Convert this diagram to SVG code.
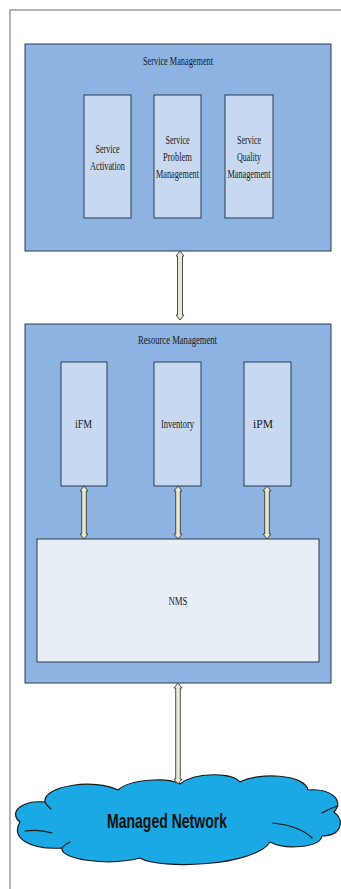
<svg xmlns="http://www.w3.org/2000/svg" width="341" height="889" viewBox="0 0 341 889">
<style>
.frame{fill:none;stroke:#9a9a9a;stroke-width:1.5}
.outer{fill:#8db3e2;stroke:#2a3a50;stroke-width:1}
.inner{fill:#c6d9f1;stroke:#2a3a50;stroke-width:1}
.nms{fill:#e8eef5;stroke:#2a3a50;stroke-width:1}
.lbl{font-family:"Liberation Serif","Times New Roman",serif;font-size:13px;fill:#1a1a1a;text-anchor:middle}
.arrow{fill:#e6e9d3;stroke:#3a3a3a;stroke-width:0.9;stroke-linejoin:round}
.cloud{fill:#1aa9e4;stroke:#1a1a1a;stroke-width:1.2;stroke-linejoin:round}
.fold{fill:none;stroke:#1a1a1a;stroke-width:1.2;stroke-linecap:round}
.net{font-family:"Liberation Sans",Arial,sans-serif;font-weight:bold;font-size:21px;fill:#111;text-anchor:middle}
</style>
<rect x="0" y="0" width="341" height="889" fill="#ffffff"/>
<path class="frame" d="M10,889 V10 H341"/>

<g id="service-management">
<rect class="outer" x="25" y="44" width="306" height="207"/>
<text class="lbl" x="178" y="64.5" textLength="70" lengthAdjust="spacingAndGlyphs">Service Management</text>
</g>
<g id="service-activation">
<rect class="inner" x="84" y="95" width="47" height="123"/>
<text class="lbl" x="107.5" y="152.5" textLength="24" lengthAdjust="spacingAndGlyphs">Service</text>
<text class="lbl" x="107.5" y="169.5" textLength="35" lengthAdjust="spacingAndGlyphs">Activation</text>
</g>
<g id="service-problem-management">
<rect class="inner" x="154" y="95" width="47" height="123"/>
<text class="lbl" x="177.5" y="143.5" textLength="24" lengthAdjust="spacingAndGlyphs">Service</text>
<text class="lbl" x="177.5" y="160.5" textLength="29" lengthAdjust="spacingAndGlyphs">Problem</text>
<text class="lbl" x="177.5" y="177.5" textLength="43" lengthAdjust="spacingAndGlyphs">Management</text>
</g>
<g id="service-quality-management">
<rect class="inner" x="225" y="95" width="48" height="123"/>
<text class="lbl" x="249" y="143.5" textLength="24" lengthAdjust="spacingAndGlyphs">Service</text>
<text class="lbl" x="249" y="160.5" textLength="24" lengthAdjust="spacingAndGlyphs">Quality</text>
<text class="lbl" x="249" y="177.5" textLength="43" lengthAdjust="spacingAndGlyphs">Management</text>
</g>

<g id="resource-management">
<rect class="outer" x="25" y="324" width="306" height="359"/>
<text class="lbl" x="177.5" y="343.5" textLength="79" lengthAdjust="spacingAndGlyphs">Resource Management</text>
</g>
<g id="ifm">
<rect class="inner" x="61" y="362" width="46" height="124"/>
<text class="lbl" x="83.5" y="427.5" textLength="17" lengthAdjust="spacingAndGlyphs">iFM</text>
</g>
<g id="inventory">
<rect class="inner" x="154" y="362" width="47" height="124"/>
<text class="lbl" x="177.5" y="427.5" textLength="33" lengthAdjust="spacingAndGlyphs">Inventory</text>
</g>
<g id="ipm">
<rect class="inner" x="244" y="362" width="47" height="124"/>
<text class="lbl" x="263" y="427.5" textLength="20" lengthAdjust="spacingAndGlyphs">iPM</text>
</g>
<g id="nms">
<rect class="nms" x="37" y="539" width="282" height="123"/>
<text class="lbl" x="178" y="604.5" textLength="19" lengthAdjust="spacingAndGlyphs">NMS</text>
</g>

<g id="managed-network">
<path class="cloud" d="M20,822 C8,812 22,800 45,802 C42,786 95,778 118,790 C130,779 168,777 180,784 C195,772 232,772 240,782 C258,772 305,774 308,790 C330,788 345,800 334,812 C345,820 342,836 322,836 C320,848 285,850 270,842 C255,866 160,870 140,858 C110,866 60,860 62,848 C30,850 10,838 20,822 Z"/>
<path class="fold" d="M25,831 Q40,829 52,833"/>
<path class="fold" d="M45,802 Q47,806 51,809"/>
<path class="fold" d="M273,823 Q300,826 312,838"/>
<path class="fold" d="M322,813 Q330,808 338,806"/>
<path class="fold" d="M62,848 Q65,844 70,842"/>
<text class="net" x="167" y="828" textLength="120" lengthAdjust="spacingAndGlyphs">Managed Network</text>
</g>

<g id="connectors">
<polygon class="arrow" points="180,251 184,256 182.5,256 182.5,315 184,315 180,320 176,315 177.5,315 177.5,256 176,256"/>
<polygon class="arrow" points="84,486 88,491 86.3,491 86.3,534 88,534 84,539 80,534 81.7,534 81.7,491 80,491"/>
<polygon class="arrow" points="178,486 182,491 180.3,491 180.3,534 182,534 178,539 174,534 175.7,534 175.7,491 174,491"/>
<polygon class="arrow" points="267,486 271,491 269.3,491 269.3,534 271,534 267,539 263,534 264.7,534 264.7,491 263,491"/>
<polygon class="arrow" points="178,683 182,688 180.3,688 180.3,779 182,779 178,784 174,779 175.7,779 175.7,688 174,688"/>
</g>
</svg>
